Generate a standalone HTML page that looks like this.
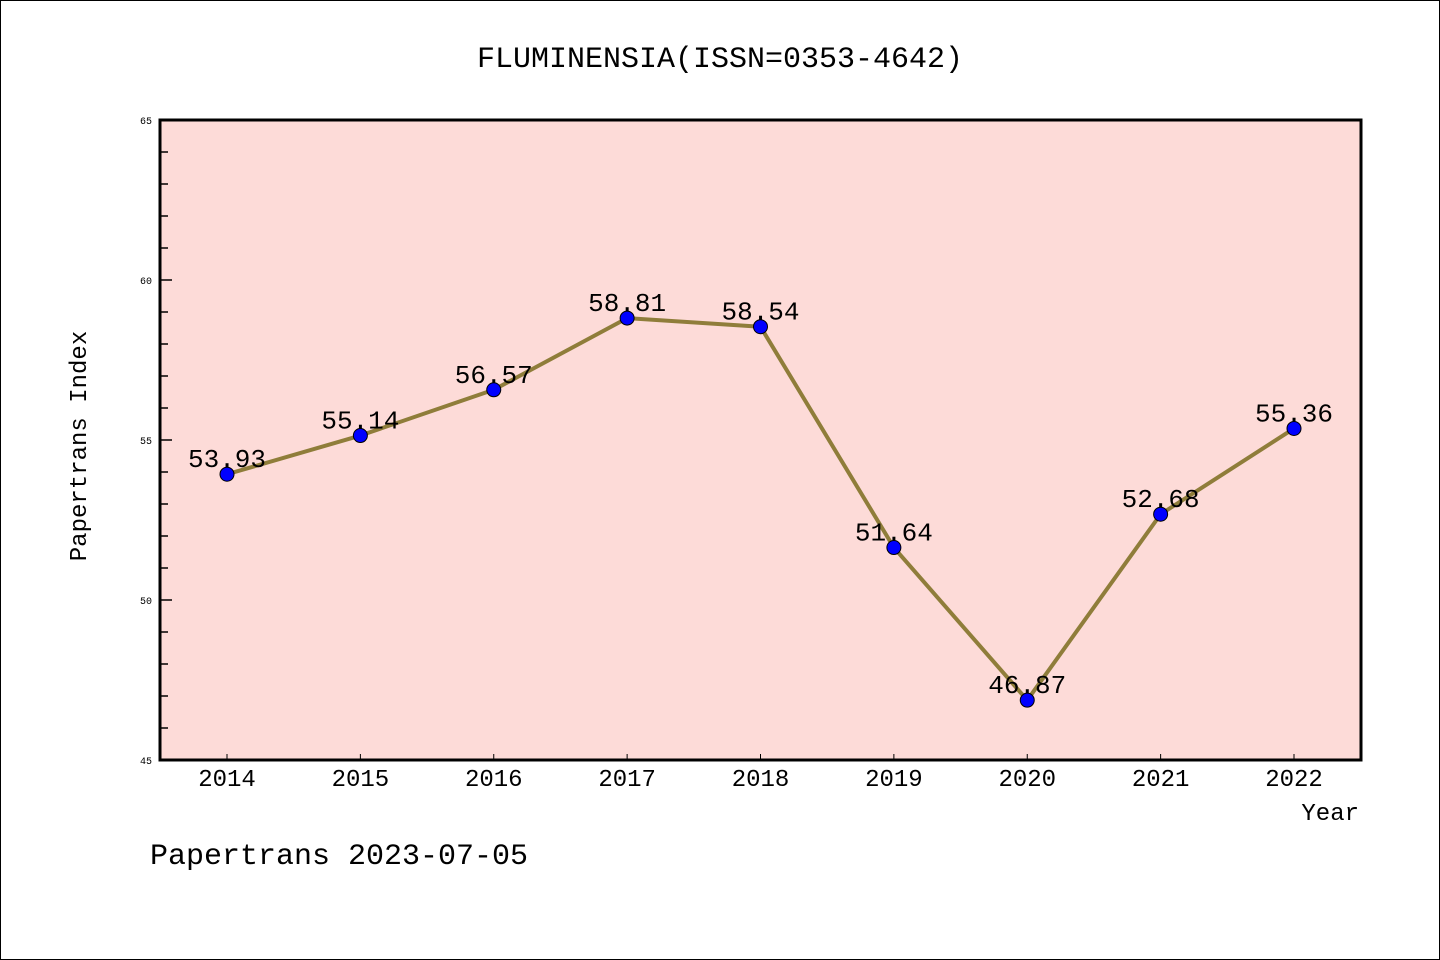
<!DOCTYPE html>
<html><head><meta charset="utf-8"><style>
html,body{margin:0;padding:0;background:#fff}
svg{display:block}
text{font-family:"Liberation Mono","DejaVu Sans Mono",monospace;fill:#000}
</style></head><body>
<svg id="chart" width="1440" height="960">
<rect x="0.5" y="0.5" width="1439" height="959" fill="#fff" stroke="#000"/>
<text x="720" y="67" text-anchor="middle" font-size="30">FLUMINENSIA(ISSN=0353-4642)</text>
<rect x="160" y="120" width="1201" height="640" fill="#fddbd8" stroke="#000" stroke-width="3"/>
<g id="yaxis"></g>
<g id="xaxis"></g>
<g id="series"></g>
<text x="86" y="446" transform="rotate(-90 86 446)" text-anchor="middle" font-size="24">Papertrans Index</text>
<text x="1359" y="820" text-anchor="end" font-size="24">Year</text>
<text x="150" y="864" font-size="30">Papertrans 2023-07-05</text>
</svg>
<script>
const years = ["2014","2015","2016","2017","2018","2019","2020","2021","2022"];
const values = [53.93,55.14,56.57,58.81,58.54,51.64,46.87,52.68,55.36];
const valueLabels = ["53.93","55.14","56.57","58.81","58.54","51.64","46.87","52.68","55.36"];
const yTicks = [45,50,55,60,65];
const NS="http://www.w3.org/2000/svg";
const L=160,R=1361,T=120,B=760,yMin=45,yMax=65;
const x0=227,x1=1294;
function xs(i){return x0+(x1-x0)*i/(years.length-1);}
function ys(v){return B-(v-yMin)/(yMax-yMin)*(B-T);}
function mk(tag,attrs,parent){const e=document.createElementNS(NS,tag);for(const k in attrs)e.setAttribute(k,attrs[k]);parent.appendChild(e);return e;}
const ya=document.getElementById('yaxis'),xa=document.getElementById('xaxis'),sg=document.getElementById('series');
for(let v=yMin;v<=yMax;v++){
  const major=yTicks.includes(v);
  const t=mk('line',{x1:L,x2:L+(major?12:8),y1:ys(v),y2:ys(v),stroke:'#000','stroke-width':1.5},ya);
  
  
}
yTicks.forEach(v=>{
  const t=mk('text',{x:L-8,y:ys(v)+4,'text-anchor':'end','font-size':10},ya);
  t.textContent=v;
  
  
});
years.forEach((y,i)=>{
  const tk=mk('line',{x1:xs(i),x2:xs(i),y1:B,y2:B-6,stroke:'#000','stroke-width':1},xa);
  
  
  const t=mk('text',{x:xs(i),y:786,'text-anchor':'middle','font-size':24},xa);
  t.textContent=y;
  
  
});
const pl=mk('polyline',{points:values.map((v,i)=>xs(i)+','+ys(v)).join(' '),fill:'none',stroke:'#8f7d3a','stroke-width':4,'stroke-linejoin':'round'},sg);


values.forEach((v,i)=>{
  const c=mk('circle',{cx:xs(i),cy:ys(v),r:7,fill:'#0000ff',stroke:'#000','stroke-width':1},sg);
  
  
  const t=mk('text',{x:xs(i),y:ys(v)-7,'text-anchor':'middle','font-size':26},sg);
  t.textContent=valueLabels[i];
  
  
});
</script>
</body></html>
